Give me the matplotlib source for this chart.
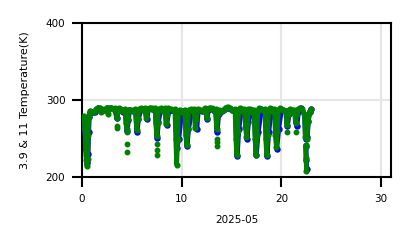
import numpy as np
import matplotlib
matplotlib.use("Agg")
import matplotlib.pyplot as plt

nan = np.nan

# 11 um brightness temperature (green), day of month vs K, nan = gap
t11_day = [0.2, 0.28, 0.36, 0.43, 0.5, 0.56, 0.62, 0.68, 0.76, 0.85, 1.0, 1.2,
           1.4, 1.6, 1.8, 1.95, 2.05, 2.3, 2.5, 2.6, 2.7, 2.9, 3.1, 3.3, 3.4, 3.5, 3.6,
           3.7, 3.9, 4.1, 4.3, 4.4, 4.5, 4.6, 4.7, 4.9, 5.2, 5.35, 5.48, 5.6, 5.7,
           5.9, 6.1, 6.3, 6.45, 6.6, 6.8, 7.0, 7.2, 7.32, 7.4, 7.5, 7.6, 7.68, 7.9,
           8.1, 8.3, 8.43, 8.55, 8.65, 8.9, 9.2, 9.32, 9.4, 9.5, 9.6, 9.68, 9.8, 10.0,
           10.3, 10.4, 10.5, 10.6, 10.7, 10.9, 11.1, 11.25, 11.35, 11.48, 11.6, 11.9,
           12.2, 12.38, 12.5, 12.6, 12.8, 13.0, 13.2, 13.4, 13.5, 13.62, 13.72, 13.9,
           14.2, 14.4, 14.6, 14.8, 15.0, 15.2, 15.35, 15.43, 15.52, 15.62, 15.72, 15.9,
           16.1, 16.3, 16.4, 16.5, 16.6, 16.7, 16.9, 17.1, 17.25, 17.35, 17.45, 17.55,
           17.65, 17.8, 18.0, 18.35, 18.43, 18.52, 18.62, 18.72, 18.9, 19.1, 19.3, 19.4,
           19.5, 19.6, 19.7, 19.9, 20.2, 20.42, 20.55, 20.65, 20.75, 20.9, 21.1, 21.3,
           21.42, 21.55, 21.68, 21.9, 22.1, 22.32, 22.4, nan,
           22.43, 22.48, 22.52, nan, 22.58, 22.68, 22.85, 23.0]
t11_k = [279, 262, 240, 222, 214, 224, 255, 278, 284, 286, 285, 284,
         288, 290, 290, 284, 288, 287, 290, 282, 289, 290, 288, 289, 288, 277, 286,
         289, 287, 286, 288, 270, 262, 275, 287, 287, 286, 288, 261, 275, 288,
         289, 287, 289, 277, 288, 290, 289, 287, 289, 270, 253, 270, 288, 289,
         286, 289, 269, 280, 289, 288, 286, 288, 250, 216, 250, 285, 287, 285,
         287, 255, 241, 262, 287, 288, 286, 288, 263, 275, 288, 287,
         286, 289, 276, 288, 290, 289, 286, 288, 262, 282, 287, 286,
         287, 290, 291, 289, 287, 286, 288, 250, 229, 260, 287, 289,
         286, 288, 265, 252, 270, 288, 288, 285, 287, 250, 229, 255,
         287, 289, 287, 288, 250, 229, 255, 287, 289, 286, 288, 255,
         239, 260, 287, 289, 287, 286, 268, 280, 287, 288, 284, 287,
         270, 282, 288, 290, 288, 282, 252, nan,
         241, 225, 208, nan, 250, 272, 285, 288]

# isolated 11 um samples
t11_dot_day = [3.48, 3.5, 4.5, 4.52, 4.5, 7.48, 7.5, 7.52, 13.5, 13.52, 13.5,
               20.6, 21.5, 22.5]
t11_dot_k = [266, 264, 258, 243, 233, 243, 235, 228, 250, 245, 240,
             258, 258, 239]

# 3.9 um brightness temperature (blue)
t39_day = [0.22, 0.31, 0.39, 0.46, 0.53, 0.6, 0.66, 0.72, 0.8, 0.9, 1.1, 1.3,
           1.6, 1.9, 2.1, 2.5, 2.9, 3.3, 3.5, 3.62, 3.8, 4.1, 4.35, 4.52, 4.65, 4.75,
           5.1, 5.38, 5.52, 5.65, 5.9, 6.3, 6.5, 6.65, 7.0, 7.36, 7.53, 7.66, 7.9,
           8.34, 8.5, 8.68, 9.0, 9.38, 9.53, 9.7, 10.0, 10.36, 10.53, 10.68, 11.0,
           11.3, 11.5, 11.66, 12.0, 12.42, 12.55, 12.66, 13.0, 13.42, 13.55, 13.7,
           14.0, 14.5, 15.0, 15.4, 15.56, 15.72, 16.0, 16.36, 16.55, 16.7, 17.0,
           17.3, 17.48, 17.66, 18.0, 18.4, 18.55, 18.72, 19.0, 19.36, 19.53, 19.72,
           20.0, 20.48, 20.6, 20.76, 21.0, 21.38, 21.55, 21.7, 22.0, 22.34, 22.43, nan,
           22.46, 22.5, 22.54, nan, 22.6, 22.7, 22.85, 23.0]
t39_k = [276, 258, 236, 221, 218, 230, 258, 278, 283, 285, 284, 285,
         289, 286, 287, 289, 289, 288, 276, 286, 288, 285, 287, 260, 274, 287,
         286, 287, 258, 275, 288, 288, 275, 288, 288, 288, 251, 272, 288,
         288, 268, 286, 287, 287, 238, 250, 286, 286, 240, 262, 287,
         287, 262, 286, 286, 288, 275, 287, 288, 287, 258, 282,
         286, 289, 287, 287, 227, 262, 288, 287, 250, 272, 287,
         286, 228, 258, 288, 287, 227, 258, 288, 287, 237, 262,
         288, 286, 266, 282, 287, 286, 266, 284, 289, 281, 250, nan,
         240, 222, 210, nan, 252, 273, 285, 288]

fig = plt.figure(figsize=(4.11, 2.48), dpi=100)
ax = fig.add_axes([82 / 411, 71 / 248, 309 / 411, 154 / 248])

ax.plot(t39_day, t39_k, "-o", color="blue", lw=3.6, ms=3.6,
        solid_capstyle="round", solid_joinstyle="round", zorder=3)
ax.plot(t11_day, t11_k, "-o", color="green", lw=3.4, ms=3.4,
        solid_capstyle="round", solid_joinstyle="round", zorder=4)
ax.plot(t11_dot_day, t11_dot_k, "o", color="green", ms=3.2, zorder=4)

ax.set_xlim(0, 31)
ax.set_ylim(200, 400)
ax.set_xticks([0, 10, 20, 30])
ax.set_yticks([200, 300, 400])
ax.grid(True, color="#e6e6e6", lw=1.5, zorder=0)
ax.set_axisbelow(True)
for s in ax.spines.values():
    s.set_linewidth(1.5)
ax.tick_params(length=7, width=1.5, labelsize=7.5, pad=5)
ax.set_xlabel("2025-05", fontsize=7.5, labelpad=8)
ax.set_ylabel("3.9 & 11 Temperature(K)", fontsize=8, labelpad=11)

fig.savefig("out.png", dpi=100)
